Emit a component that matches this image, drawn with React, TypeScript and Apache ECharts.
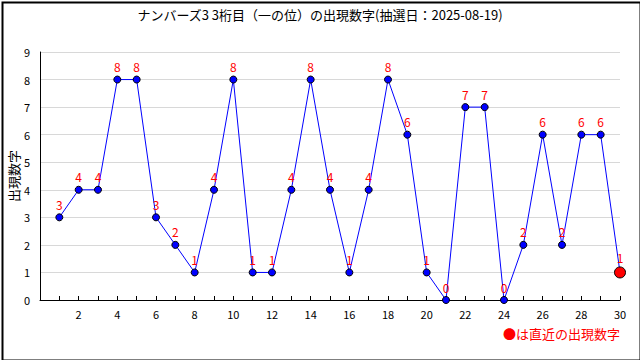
import React, { useEffect, useRef } from "react";
import * as echarts from "echarts";

const draws = [1, 2, 3, 4, 5, 6, 7, 8, 9, 10, 11, 12, 13, 14, 15, 16, 17, 18, 19, 20, 21, 22, 23, 24, 25, 26, 27, 28, 29, 30];
const digits = [3, 4, 4, 8, 8, 3, 2, 1, 4, 8, 1, 1, 4, 8, 4, 1, 4, 8, 6, 1, 0, 7, 7, 0, 2, 6, 2, 6, 6, 1];
const titleText = "ナンバーズ3 3桁目（一の位）の出現数字(抽選日：2025-08-19)";
const yAxisName = "出現数字";
const noteText = "●は直近の出現数字";

const FONT = "'Noto Sans CJK JP', 'DejaVu Sans', sans-serif";

export default function App() {
  const ref = useRef<HTMLDivElement>(null);
  useEffect(() => {
    document.body.style.margin = "0";
    if (!ref.current) return;
    const chart = echarts.init(ref.current, null, { renderer: "svg" });
    const n = draws.length;
    const data = draws.map((x, i) => {
      const last = i === n - 1;
      return {
        value: [x, digits[i]],
        symbolSize: last ? 11 : 7,
        itemStyle: last
          ? { color: "#ff0000", borderColor: "#000", borderWidth: 1 }
          : { color: "#0000ff", borderColor: "#000", borderWidth: 1 },
      };
    });
    chart.setOption({
      animation: false,
      backgroundColor: "#fff",
      title: {
        text: titleText,
        left: "center",
        top: 3,
        textStyle: { fontSize: 13, fontWeight: "normal", color: "#000", fontFamily: FONT },
      },
      grid: { left: 40, right: 20, top: 52, bottom: 60, containLabel: false, outerBoundsMode: "none" },
      xAxis: {
        type: "value",
        min: 0,
        max: 30,
        interval: 1,
        axisLine: { lineStyle: { color: "#000", width: 1 } },
        axisTick: { show: true, inside: true, length: 4, lineStyle: { color: "#000" } },
        splitLine: { show: false },
        axisLabel: {
          color: "#000",
          fontSize: 11,
          fontFamily: FONT,
          margin: 8,
          formatter: (v: number) => (v > 0 && v % 2 === 0 ? String(v) : ""),
        },
      },
      yAxis: {
        type: "value",
        min: 0,
        max: 9,
        interval: 1,
        axisLine: { show: true, lineStyle: { color: "#000", width: 1 } },
        axisTick: { show: false },
        splitLine: { show: true, lineStyle: { color: "#d8d8d8", width: 1 } },
        axisLabel: { color: "#000", fontSize: 11, fontFamily: FONT, margin: 10 },
      },
      series: [
        {
          type: "line",
          data,
          symbol: "circle",
          lineStyle: { color: "#0000ff", width: 1 },
          label: {
            show: true,
            position: "top",
            distance: 3,
            color: "#ff0000",
            fontSize: 12,
            fontFamily: FONT,
            formatter: (p: any) => String(p.value[1]),
          },
          z: 3,
        },
      ],
      graphic: [
        {
          type: "rect",
          left: 0,
          top: 0,
          shape: { x: 1, y: 1, width: 638, height: 358 },
          style: { fill: "none", stroke: "#000", lineWidth: 2 },
          silent: true,
        },
        {
          type: "text",
          x: 13,
          y: 176,
          rotation: Math.PI / 2,
          style: {
            text: yAxisName,
            fill: "#000",
            fontSize: 13,
            fontFamily: FONT,
            align: "center",
            verticalAlign: "middle",
          },
        },
        {
          type: "text",
          right: 20,
          top: 327,
          style: { text: noteText, fill: "#ff0000", fontSize: 13, fontFamily: FONT },
        },
      ],
    });
    return () => chart.dispose();
  }, []);
  return <div ref={ref} style={{ width: 640, height: 360 }} />;
}
